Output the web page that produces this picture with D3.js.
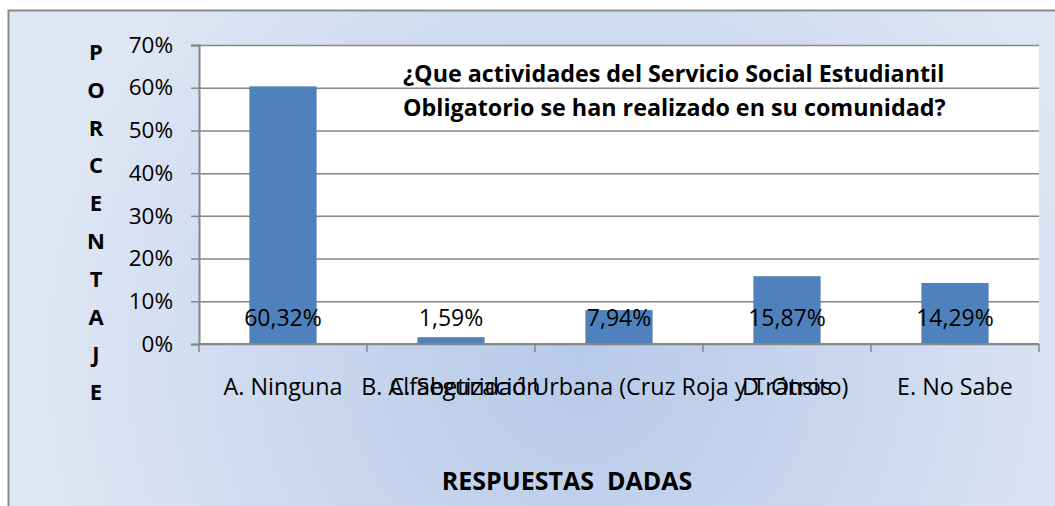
<!DOCTYPE html>
<html>
<head>
<meta charset="utf-8">
<script src="https://cdn.jsdelivr.net/npm/d3@7"></script>
<style>
  body { margin: 0; background: #fff; }
  svg { display: block; font-family: "Open Sans", sans-serif; }
</style>
</head>
<body>
<div id="chart"></div>
<script>
let categories = ['A. Ninguna', 'B. Alfabetización', 'C. Seguridad Urbana (Cruz Roja y Tránsito)', 'D. Otros', 'E. No Sabe'];
let values = [60.32, 1.59, 7.94, 15.87, 14.29];
let yTicks = [0, 10, 20, 30, 40, 50, 60, 70];
let titleLines = ['¿Que actividades del Servicio Social Estudiantil', 'Obligatorio se han realizado en su comunidad?'];
let yTitle = 'PORCENTAJE';
let xTitle = 'RESPUESTAS  DADAS';

let width = 1055;
let height = 506;
let plot = {left: 199, right: 1039, top: 45, bottom: 344};

let svg = d3.select('#chart')
    .append('svg')
    .attr('width', width)
    .attr('height', height);

// chart area background
let defs = svg.append('defs');
let grad = defs.append('radialGradient')
    .attr('id', 'bg')
    .attr('gradientUnits', 'userSpaceOnUse')
    .attr('cx', 580).attr('cy', 360)
    .attr('r', 560);
grad.append('stop').attr('offset', '0%').attr('stop-color', '#b7cae9');
grad.append('stop').attr('offset', '55%').attr('stop-color', '#ccd9ef');
grad.append('stop').attr('offset', '100%').attr('stop-color', '#e0e7f4');

svg.append('rect')
    .attr('x', 8.5).attr('y', 10.5)
    .attr('width', 1060).attr('height', 510)
    .attr('fill', 'url(#bg)')
    .attr('stroke', '#8c8c8c')
    .attr('stroke-width', 2);

svg.append('rect')
    .attr('x', plot.left).attr('y', plot.top)
    .attr('width', plot.right - plot.left)
    .attr('height', plot.bottom - plot.top)
    .attr('fill', '#fff');

let x = d3.scaleBand()
    .domain(categories)
    .range([plot.left, plot.right])
    .paddingInner(0.6)
    .paddingOuter(0.3);

let y = d3.scaleLinear()
    .domain([0, 70])
    .range([plot.bottom, plot.top]);

// gridlines
svg.append('g')
    .attr('transform', `translate(${plot.left}, 0)`)
    .call(d3.axisLeft(y).tickValues(yTicks).tickSize(-(plot.right - plot.left)).tickFormat(''))
    .call(g => g.select('.domain').remove())
    .selectAll('line')
        .attr('stroke', '#868686')
        .attr('stroke-width', 1.5);

// bars
svg.selectAll('.bar')
    .data(values)
    .enter()
    .append('rect')
        .attr('class', 'bar')
        .attr('x', (d, i) => x(categories[i]))
        .attr('y', d => y(d))
        .attr('width', x.bandwidth())
        .attr('height', d => y(0) - y(d))
        .attr('fill', '#4f81bd');

// y axis
let yAxis = svg.append('g')
    .attr('transform', `translate(${plot.left}, 0)`)
    .call(d3.axisLeft(y).tickValues(yTicks).tickSize(8).tickPadding(18).tickFormat(d => d + '%'));
yAxis.select('.domain').attr('stroke', '#868686').attr('stroke-width', 2);
yAxis.selectAll('line').attr('stroke', '#868686').attr('stroke-width', 1.5);
yAxis.selectAll('text')
    .attr('font-size', 22.5)
    .attr('font-family', '"Open Sans", sans-serif')
    .attr('fill', '#000');

// x axis: line plus ticks between categories
let xAxis = svg.append('g');
xAxis.append('line')
    .attr('x1', plot.left).attr('x2', plot.right)
    .attr('y1', y(0)).attr('y2', y(0))
    .attr('stroke', '#868686')
    .attr('stroke-width', 2);
let bounds = categories.map(c => x(c) - x.step() * x.paddingOuter());
bounds.push(plot.right);
xAxis.selectAll('.xtick')
    .data(bounds)
    .enter()
    .append('line')
        .attr('x1', d => d).attr('x2', d => d)
        .attr('y1', y(0)).attr('y2', y(0) + 8)
        .attr('stroke', '#868686')
        .attr('stroke-width', 1.5);
xAxis.selectAll('.xlabel')
    .data(categories)
    .enter()
    .append('text')
        .attr('x', d => x(d) + x.bandwidth() / 2)
        .attr('y', 395)
        .attr('text-anchor', 'middle')
        .attr('font-size', 23.3)
        .text(d => d);

// data labels (inside base)
svg.selectAll('.vlabel')
    .data(values)
    .enter()
    .append('text')
        .attr('x', (d, i) => x(categories[i]) + x.bandwidth() / 2)
        .attr('y', y(0) - 18)
        .attr('text-anchor', 'middle')
        .attr('font-size', 23)
        .text(d => d.toFixed(2).replace('.', ',') + '%');

// title
svg.append('g')
    .selectAll('text')
    .data(titleLines)
    .enter()
    .append('text')
        .attr('x', 403)
        .attr('y', (d, i) => 82 + i * 34)
        .attr('font-size', 23.3)
        .attr('font-weight', 'bold')
        .text(d => d);

// y axis title, one letter per line
svg.append('g')
    .selectAll('text')
    .data(yTitle.split(''))
    .enter()
    .append('text')
        .attr('x', 96)
        .attr('y', (d, i) => 52 + i * 37.8)
        .attr('dy', '0.36em')
        .attr('text-anchor', 'middle')
        .attr('font-size', 22)
        .attr('font-weight', 'bold')
        .text(d => d);

// x axis title
svg.append('text')
    .attr('x', 567)
    .attr('y', 490)
    .attr('text-anchor', 'middle')
    .attr('font-size', 25)
    .attr('font-weight', 'bold')
    .style('white-space', 'pre')
    .text(xTitle);
</script>
</body>
</html>
